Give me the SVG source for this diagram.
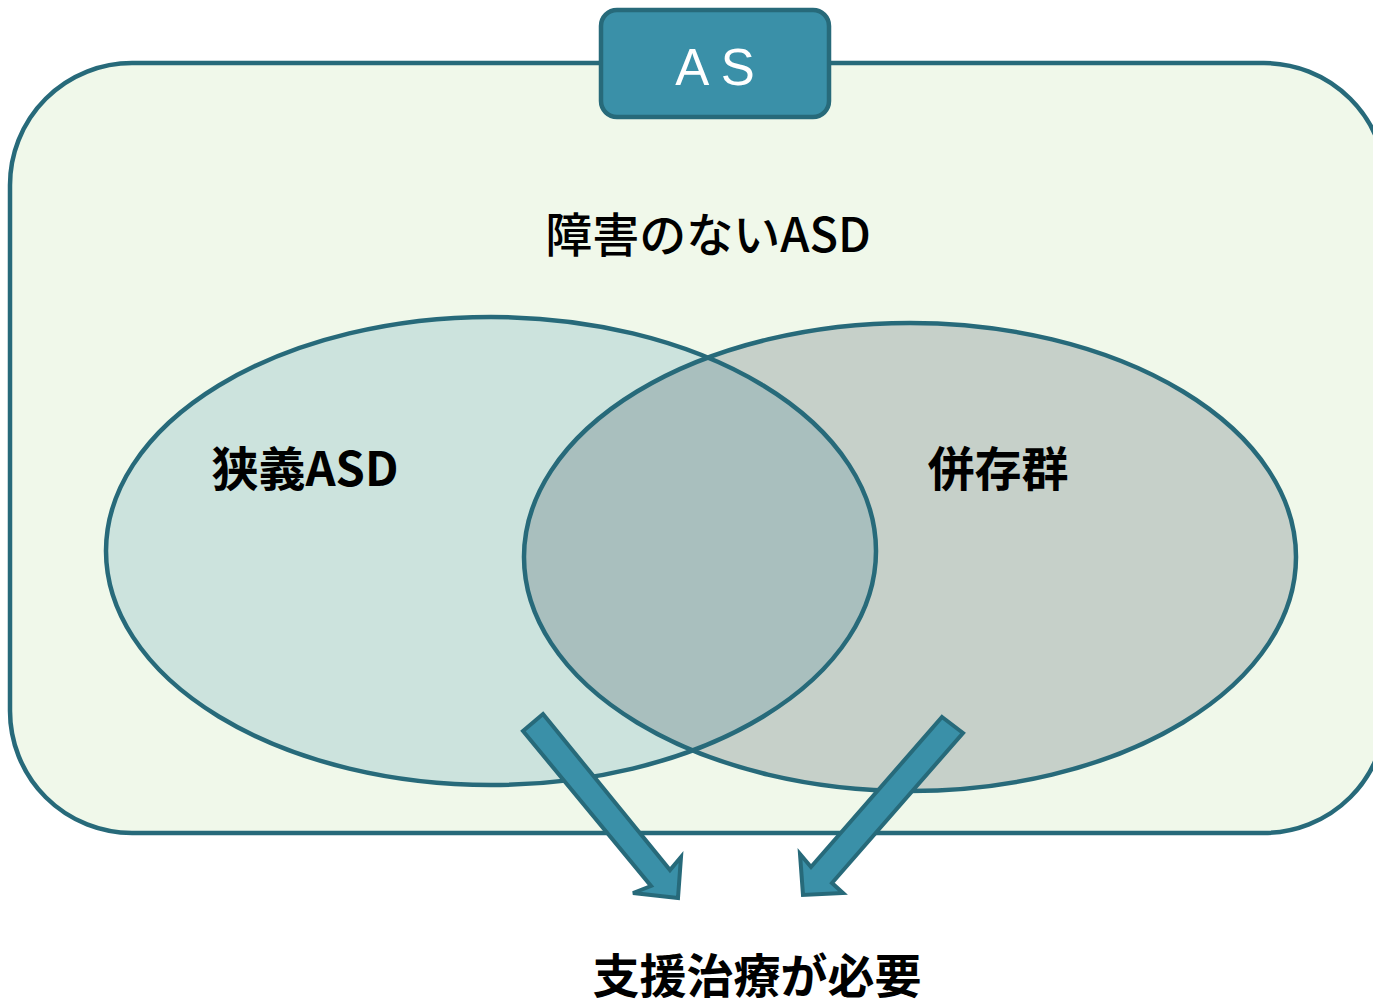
<svg xmlns="http://www.w3.org/2000/svg" width="1373" height="1007" viewBox="0 0 1373 1007">
<style>
.ln{stroke:#276a7a;stroke-width:4.5}
.lbl{font-family:"Noto Sans CJK JP","Noto Sans",sans-serif;font-size:47px;fill:#000;text-anchor:middle}
.arrow{fill:#3a90a8;stroke:#276a7a;stroke-width:4;stroke-linejoin:miter}
</style>
<defs>
<clipPath id="clipL"><ellipse cx="491" cy="551" rx="385" ry="234"/></clipPath>
</defs>
<rect width="1373" height="1007" fill="#ffffff"/>
<g id="as-frame">
<rect class="ln" x="10" y="63" width="1376" height="770" rx="122" ry="122" fill="#f0f8ea"/>
</g>
<g id="as-tag">
<rect class="ln" x="601" y="10" width="228" height="107" rx="16" ry="16" fill="#3a90a8"/>
<text x="715" y="85" font-family="Liberation Sans,Arial,sans-serif" font-size="51" fill="#ffffff" text-anchor="middle">A S</text>
</g>
<g id="label-top">
<text class="lbl" x="708" y="252" font-weight="500">障害のないASD</text>
</g>
<g id="ellipse-left">
<ellipse cx="491" cy="551" rx="385" ry="234" fill="#cce3dd"/>
</g>
<g id="ellipse-right">
<ellipse cx="910" cy="557" rx="386" ry="234" fill="#c6d0c9"/>
<ellipse cx="910" cy="557" rx="386" ry="234" fill="#a9bfbe" clip-path="url(#clipL)"/>
</g>
<g id="outlines">
<ellipse class="ln" cx="491" cy="551" rx="385" ry="234" fill="none"/>
<ellipse class="ln" cx="910" cy="557" rx="386" ry="234" fill="none"/>
</g>
<g id="label-left">
<text class="lbl" x="305" y="486" font-weight="bold">狭義ASD</text>
</g>
<g id="label-right">
<text class="lbl" x="998" y="486" font-weight="bold">併存群</text>
</g>
<g id="connectors">
<polygon class="arrow" points="543,714 670,870 681,857 678,898 633,893 651,886 523,731"/>
<polygon class="arrow" points="942,717 963,733 832,883 843,893 803,895 800,854 811,867"/>
</g>
<g id="label-bottom">
<text class="lbl" x="757" y="993" font-weight="bold">支援治療が必要</text>
</g>
</svg>
